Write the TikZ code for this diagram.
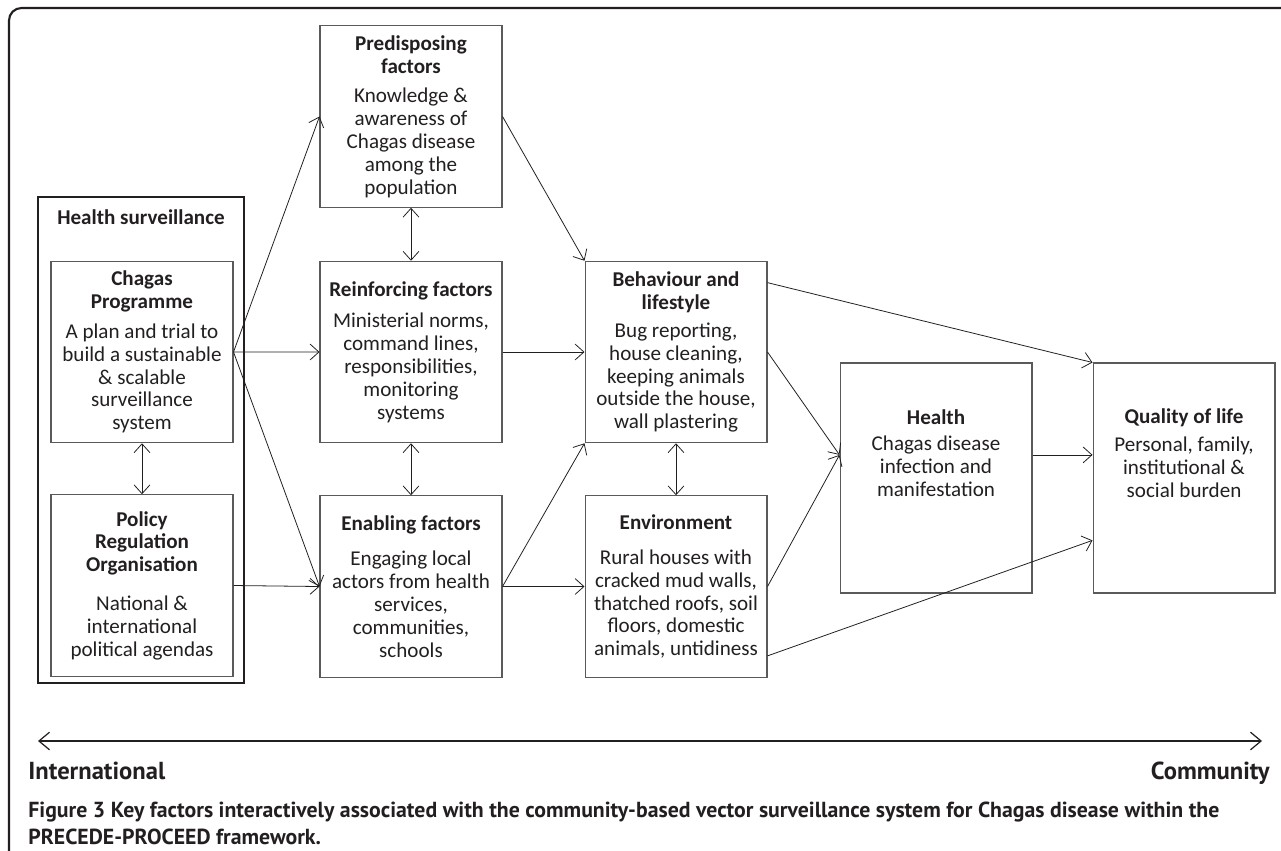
\documentclass[tikz,border=0pt]{standalone}
\usepackage{fontspec}
\setmainfont{Carlito}
\newfontfamily\capfont{PT Sans}
\usetikzlibrary{positioning,calc,arrows.meta}
\definecolor{boxgray}{HTML}{5A5A5A}
\definecolor{inkgray}{HTML}{231F20}
\tikzset{
	fbox/.style={draw=boxgray, line width=0.6pt, minimum width=3.64cm, minimum height=3.63cm,
		inner sep=0pt, align=center, text=inkgray, font=\fontsize{12}{13}\selectfont},
	survbox/.style={draw=inkgray, line width=1.2pt, minimum width=4.12cm, minimum height=9.72cm, inner sep=0pt},
	arr/.style={-{Straight Barb[length=5pt,width=9pt]}, line width=0.45pt, draw=inkgray},
	darr/.style={{Straight Barb[length=5pt,width=9pt]}-{Straight Barb[length=5pt,width=9pt]}, line width=0.45pt, draw=inkgray},
	axis/.style={{Straight Barb[length=6pt,width=10pt]}-{Straight Barb[length=6pt,width=10pt]}, line width=0.7pt, draw=inkgray},
	frame/.style={draw=inkgray, line width=1.2pt, rounded corners=0.25cm},
	endlbl/.style={font=\capfont\bfseries\fontsize{14}{16}\selectfont, text=inkgray, inner sep=0pt},
}
\newcommand{\hd}[1]{{\bfseries #1}}

\begin{document}
\begin{tikzpicture}[x=0.02cm, y=-0.02cm]
	\useasboundingbox (0,0) rectangle (1281,851);
	%% frame
	\draw[frame] (9,900) -- (9,8) -- (1340,8);
	%% health surveillance
	\node[survbox] (surv) at (141,440) {};
	\node[below=0.16cm of surv.north, font=\fontsize{12}{13}\selectfont\bfseries, text=inkgray] (survlbl) {Health surveillance};
	\node[fbox] (chagas) at (142,352) {\hd{Chagas}\\\hd{Programme}\\[4pt]A plan and trial to\\build a sustainable\\\& scalable\\surveillance\\system};
	\node[fbox, below=1.02cm of chagas] (policy) {\hd{Policy}\\\hd{Regulation}\\\hd{Organisation}\\[9pt]National \&\\international\\political agendas};
	%% factors
	\node[fbox] (pred) at (411,116.5) {\hd{Predisposing}\\\hd{factors}\\[4pt]Knowledge \&\\awareness of\\Chagas disease\\among the\\population};
	\node[fbox, below=1.06cm of pred] (reinf) {\hd{Reinforcing factors}\\[5pt]Ministerial norms,\\command lines,\\responsibilities,\\monitoring\\systems};
	\node[fbox, below=1.04cm of reinf] (enab) {\hd{Enabling factors}\\[7pt]Engaging local\\actors from health\\services,\\communities,\\schools};
	%% behaviour and environment
	\node[fbox, right=1.64cm of reinf] (behav) {\hd{Behaviour and}\\\hd{lifestyle}\\[3pt]Bug reporting,\\house cleaning,\\keeping animals\\outside the house,\\wall plastering};
	\node[fbox, below=1.04cm of behav] (env) {\hd{Environment}\\[7pt]Rural houses with\\cracked mud walls,\\thatched roofs, soil\\floors, domestic\\animals, untidiness};
	%% outcomes
	\node[fbox, minimum width=3.84cm, minimum height=4.6cm, text depth=1.0cm] (health) at (936,478) {\hd{Health}\\[2pt]Chagas disease\\infection and\\manifestation};
	\node[fbox, minimum height=4.6cm, text depth=1.0cm, right=1.2cm of health] (quality) {\hd{Quality of life}\\[3pt]Personal, family,\\institutional \&\\social burden};
	% links
	\draw[arr] (chagas.east) -- (pred.west);
	\draw[arr] (chagas.east) -- (reinf.west);
	\draw[arr] (chagas.east) -- (enab.west);
	\draw[arr] (policy.east) -- (enab.west);
	\draw[darr] (chagas.south) -- (policy.north);
	\draw[darr] (pred.south) -- (reinf.north);
	\draw[darr] (reinf.south) -- (enab.north);
	\draw[arr] (pred.east) -- (behav.north west);
	\draw[arr] (reinf.east) -- (behav.west);
	\draw[arr] (enab.east) -- (behav.south west);
	\draw[arr] (enab.east) -- (env.west);
	\draw[darr] (behav.south) -- (env.north);
	\coordinate (healthin) at ($(health.north west)!0.4!(health.south west)$);
	\coordinate (healthout) at ($(health.north east)!0.4!(health.south east)$);
	\draw[arr] ($(behav.north east)!0.12!(behav.south east)$) -- (quality.north west);
	\draw[arr] (behav.east) -- (healthin);
	\draw[arr] (env.east) -- (healthin);
	\draw[arr] (healthout) -- ($(quality.north west)!0.4!(quality.south west)$);
	\draw[arr] ($(env.north east)!0.88!(env.south east)$) -- ($(quality.north west)!0.77!(quality.south west)$);
	%% international -- community
	\coordinate (axl) at (38,741);
	\coordinate (axr) at (1262,741);
	\draw[axis] (axl) -- (axr);
	\node[endlbl, anchor=base west] (intl) at (28,779) {International};
	\node[endlbl, anchor=base east] (comm) at (1270,779) {Community};
	%% caption
	\node[anchor=base west, align=left, inner sep=0pt, text=inkgray,
		font=\capfont\bfseries\fontsize{12.4}{15.3}\selectfont] (caption) at (28,844)
		{Figure 3 Key factors interactively associated with the community-based vector surveillance system for Chagas disease within the\\PRECEDE-PROCEED framework.};
\end{tikzpicture}
\end{document}
